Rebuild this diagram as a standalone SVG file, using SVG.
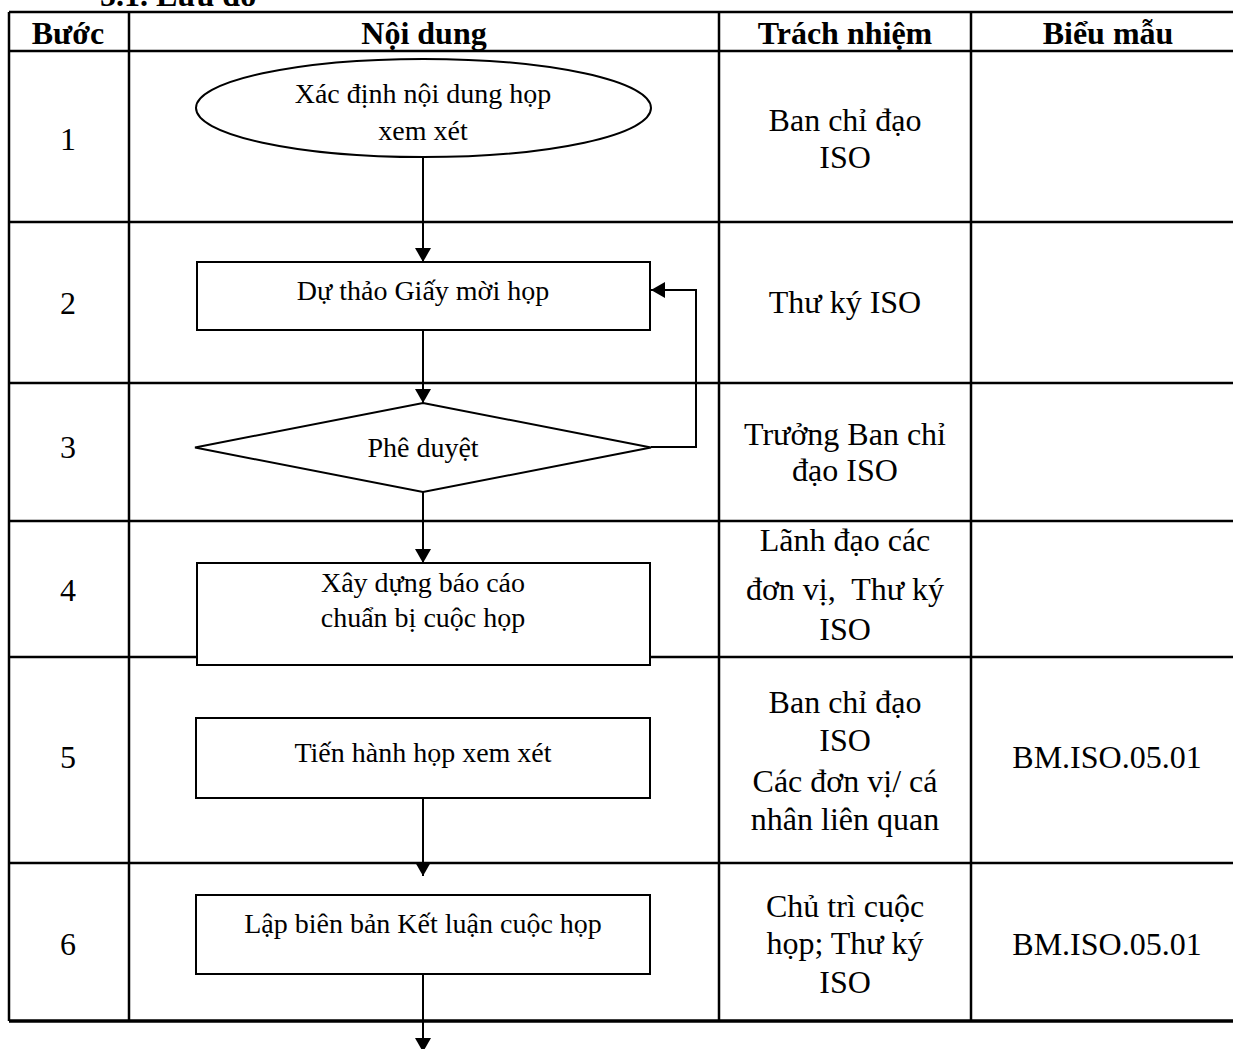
<svg xmlns="http://www.w3.org/2000/svg" width="1233" height="1049" viewBox="0 0 1233 1049">
<style>
.tl{stroke:#000;stroke-width:2.5;fill:none}
.hd{font-family:"Liberation Serif","Times New Roman",serif;font-weight:bold;font-size:32px;text-anchor:middle;fill:#000}
.tx{font-family:"Liberation Serif","Times New Roman",serif;font-size:32px;text-anchor:middle;fill:#000}
.fx{font-family:"Liberation Serif","Times New Roman",serif;font-size:28px;text-anchor:middle;fill:#000}
.shape{fill:#fff;stroke:#000;stroke-width:2}
.cn{stroke:#000;stroke-width:2;fill:none}
</style>
<defs>
<marker id="ah" markerWidth="7" markerHeight="8" refX="7" refY="4" orient="auto" markerUnits="strokeWidth">
<path d="M0,0 L7,4 L0,8 Z" fill="#000"/>
</marker>
</defs>
<rect width="1233" height="1049" fill="#fff"/>
<text x="100" y="6" class="hd" style="text-anchor:start">5.1. Lưu đồ</text>
<g id="table">
<line class="tl" x1="9" y1="12" x2="1233" y2="12"/>
<line class="tl" x1="9" y1="51" x2="1233" y2="51"/>
<line class="tl" x1="9" y1="222" x2="1233" y2="222"/>
<line class="tl" x1="9" y1="383" x2="1233" y2="383"/>
<line class="tl" x1="9" y1="521" x2="1233" y2="521"/>
<line class="tl" x1="9" y1="657" x2="1233" y2="657"/>
<line class="tl" x1="9" y1="863" x2="1233" y2="863"/>
<line class="tl" x1="9" y1="1021" x2="1233" y2="1021" style="stroke-width:3.5"/>
<line class="tl" x1="9" y1="12" x2="9" y2="1021"/>
<line class="tl" x1="129" y1="12" x2="129" y2="1021"/>
<line class="tl" x1="719" y1="12" x2="719" y2="1021"/>
<line class="tl" x1="971" y1="12" x2="971" y2="1021"/>
<text x="68" y="44" class="hd">Bước</text>
<text x="424" y="44" class="hd">Nội dung</text>
<text x="845" y="44" class="hd">Trách nhiệm</text>
<text x="1108" y="44" class="hd">Biểu mẫu</text>
<text x="68" y="150" class="tx">1</text>
<text x="68" y="314" class="tx">2</text>
<text x="68" y="458" class="tx">3</text>
<text x="68" y="601" class="tx">4</text>
<text x="68" y="768" class="tx">5</text>
<text x="68" y="955" class="tx">6</text>
<text x="845" y="131" class="tx">Ban chỉ đạo</text>
<text x="845" y="168" class="tx">ISO</text>
<text x="845" y="313" class="tx">Thư ký ISO</text>
<text x="845" y="445" class="tx">Trưởng Ban chỉ</text>
<text x="845" y="481" class="tx">đạo ISO</text>
<text x="845" y="551" class="tx">Lãnh đạo các</text>
<text x="845" y="600" class="tx" xml:space="preserve">đơn vị,  Thư ký</text>
<text x="845" y="640" class="tx">ISO</text>
<text x="845" y="713" class="tx">Ban chỉ đạo</text>
<text x="845" y="751" class="tx">ISO</text>
<text x="845" y="792" class="tx">Các đơn vị/ cá</text>
<text x="845" y="830" class="tx">nhân liên quan</text>
<text x="845" y="917" class="tx">Chủ trì cuộc</text>
<text x="845" y="954" class="tx">họp; Thư ký</text>
<text x="845" y="993" class="tx">ISO</text>
<text x="1107" y="768" class="tx">BM.ISO.05.01</text>
<text x="1107" y="955" class="tx">BM.ISO.05.01</text>
</g>
<g id="connectors">
<line class="cn" x1="423" y1="157" x2="423" y2="262" marker-end="url(#ah)"/>
<line class="cn" x1="423" y1="330" x2="423" y2="403" marker-end="url(#ah)"/>
<polyline class="cn" points="651,447 696,447 696,290 651,290" marker-end="url(#ah)"/>
<line class="cn" x1="423" y1="492" x2="423" y2="563" marker-end="url(#ah)"/>
<line class="cn" x1="423" y1="798" x2="423" y2="876" marker-end="url(#ah)"/>
<line class="cn" x1="423" y1="974" x2="423" y2="1052" marker-end="url(#ah)"/>
</g>
<g id="n1">
<ellipse class="shape" cx="423.5" cy="108" rx="227.5" ry="49"/>
<text x="423" y="103" class="fx">Xác định nội dung họp</text>
<text x="423" y="140" class="fx">xem xét</text>
</g>
<g id="n2">
<rect class="shape" x="197" y="262" width="453" height="68"/>
<text x="423" y="300" class="fx">Dự thảo Giấy mời họp</text>
</g>
<g id="n3">
<polygon class="shape" points="423,403 651,447.5 423,492 195,447.5"/>
<text x="423" y="457" class="fx">Phê duyệt</text>
</g>
<g id="n4">
<rect class="shape" x="197" y="563" width="453" height="102"/>
<text x="423" y="592" class="fx">Xây dựng báo cáo</text>
<text x="423" y="627" class="fx">chuẩn bị cuộc họp</text>
</g>
<g id="n5">
<rect class="shape" x="196" y="718" width="454" height="80"/>
<text x="423" y="762" class="fx">Tiến hành họp xem xét</text>
</g>
<g id="n6">
<rect class="shape" x="196" y="895" width="454" height="79"/>
<text x="423" y="933" class="fx">Lập biên bản Kết luận cuộc họp</text>
</g>
</svg>
